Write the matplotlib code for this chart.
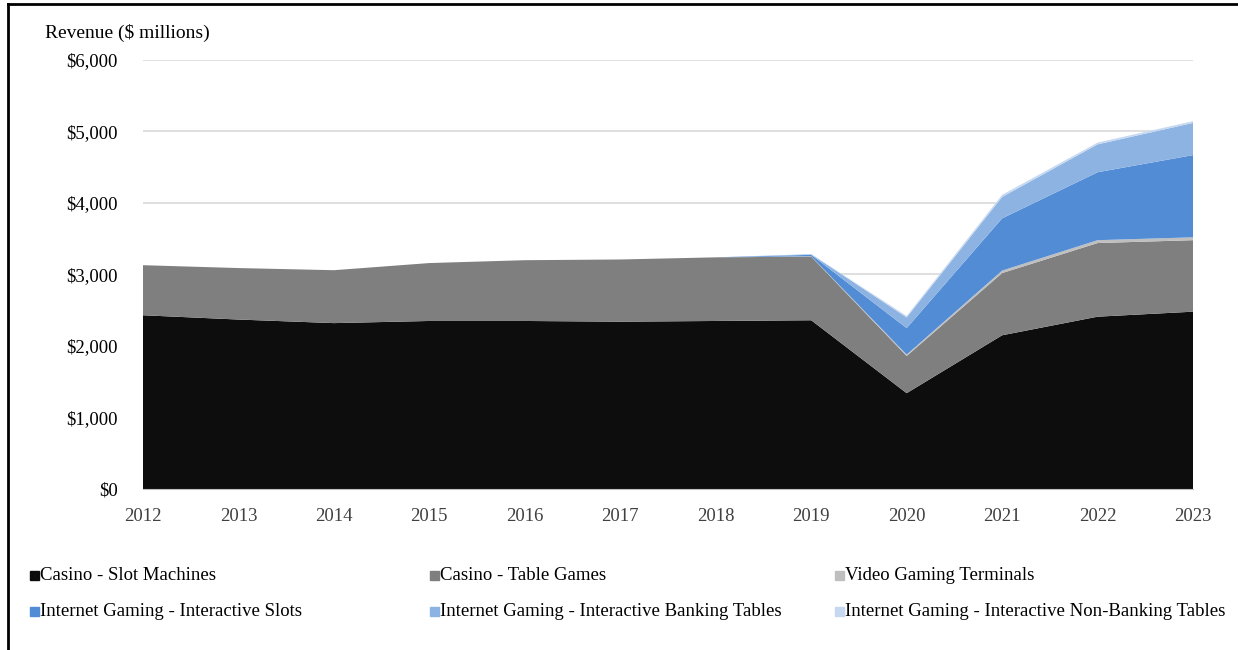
import numpy as np
import matplotlib.pyplot as plt
from matplotlib.patches import Rectangle
from matplotlib.lines import Line2D
from matplotlib.ticker import FuncFormatter

plt.rcParams['font.family'] = ['Liberation Serif', 'DejaVu Serif']

# Revenue by segment ($ millions)
years = [2012, 2013, 2014, 2015, 2016, 2017, 2018, 2019, 2020, 2021, 2022, 2023]
slot_machines = [2430, 2370, 2320, 2350, 2350, 2340, 2350, 2360, 1340, 2150, 2410, 2480]
table_games = [700, 720, 740, 810, 850, 870, 890, 890, 520, 870, 1030, 1000]
video_terminals = [0, 0, 0, 0, 0, 0, 0, 5, 20, 35, 40, 40]
interactive_slots = [0, 0, 0, 0, 0, 0, 0, 20, 370, 730, 950, 1150]
banking_tables = [0, 0, 0, 0, 0, 0, 0, 8, 150, 300, 390, 450]
non_banking_tables = [0, 0, 0, 0, 0, 0, 0, 3, 20, 30, 25, 25]

labels = ['Casino - Slot Machines', 'Casino - Table Games', 'Video Gaming Terminals',
          'Internet Gaming - Interactive Slots', 'Internet Gaming - Interactive Banking Tables',
          'Internet Gaming - Interactive Non-Banking Tables']
colors = ['#0d0d0d', '#7f7f7f', '#bfbfbf', '#518cd4', '#8db3e2', '#c6d9f1']

fig = plt.figure(figsize=(12.38, 6.5), dpi=100)
ax = fig.add_axes([0.1155, 0.2477, 0.8482, 0.66])

ax.stackplot(years, slot_machines, table_games, video_terminals, interactive_slots,
             banking_tables, non_banking_tables, colors=colors, linewidth=0, zorder=2)

ax.set_xlim(2012, 2023)
ax.set_ylim(0, 6000)
ax.set_xticks(years)
ax.set_yticks(np.arange(0, 6001, 1000))
ax.yaxis.set_major_formatter(FuncFormatter(lambda v, p: '${:,.0f}'.format(v)))
ax.grid(axis='y', color='#d9d9d9', linewidth=1.2, zorder=0)
ax.set_axisbelow(True)
for side in ['top', 'right', 'left']:
    ax.spines[side].set_visible(False)
ax.spines['bottom'].set_color('#bfbfbf')
ax.tick_params(axis='both', length=0, labelsize=13.5, colors='#000000')
ax.tick_params(axis='y', pad=18)
ax.tick_params(axis='x', pad=14, labelcolor='#404040')

fig.text(45 / 1238, 1 - 33 / 650, 'Revenue ($ millions)', fontsize=14, va='center', ha='left')

# legend laid out in two rows of three
col_x = [30, 430, 835]
row_y = [576, 612]
for i, (lab, col) in enumerate(zip(labels, colors)):
    x = col_x[i % 3]
    y = row_y[i // 3]
    fig.patches.append(Rectangle((x / 1238, 1 - (y + 4) / 650), 9 / 1238, 9 / 650,
                                 transform=fig.transFigure, color=col))
    fig.text((x + 10) / 1238, 1 - y / 650, lab, fontsize=13.5, va='center', ha='left')

# outer frame on the left and top
fig.add_artist(Line2D([8 / 1238, 8 / 1238], [0, 1 - 4 / 650], transform=fig.transFigure,
                      color='black', linewidth=2))
fig.add_artist(Line2D([8 / 1238, 1], [1 - 4 / 650, 1 - 4 / 650], transform=fig.transFigure,
                      color='black', linewidth=2))

fig.savefig('out.png', dpi=100)
